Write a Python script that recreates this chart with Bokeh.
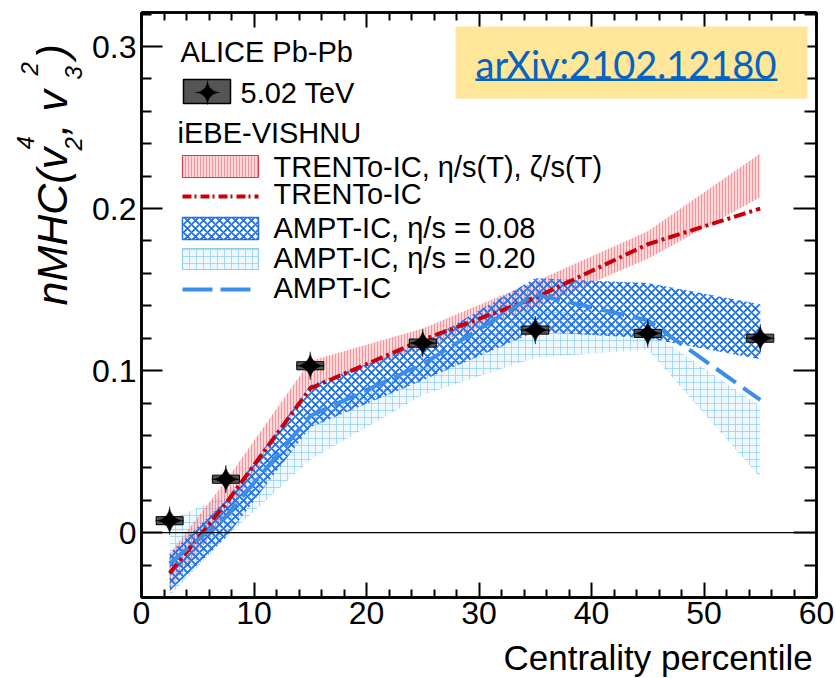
import numpy as np
from bokeh.plotting import figure
from bokeh.layouts import row, column
from bokeh.models import Range1d, LinearAxis, Span, Label, BoxAnnotation, FixedTicker, CustomJSTickFormatter
from bokeh.embed import file_html
from bokeh.resources import INLINE

# ---------------- data ----------------
cent = [2.5, 7.5, 15, 25, 35, 45, 55]
alice = [0.0074, 0.033, 0.103, 0.117, 0.125, 0.123, 0.120]
alice_sys = [0.0025, 0.0025, 0.0025, 0.0025, 0.0025, 0.0025, 0.0025]

trento_lo = [-0.034, 0.010, 0.090, 0.114, 0.139, 0.169, 0.207]
trento_hi = [-0.013, 0.032, 0.106, 0.126, 0.155, 0.186, 0.234]
trento_line = [-0.025, 0.018, 0.089, 0.119, 0.145, 0.178, 0.200]

ampt008_lo = [-0.036, -0.003, 0.065, 0.094, 0.124, 0.120, 0.107]
ampt008_hi = [-0.013, 0.020, 0.091, 0.117, 0.157, 0.154, 0.141]

ampt020_lo = [-0.039, -0.003, 0.045, 0.085, 0.108, 0.113, 0.034]
ampt020_hi = [0.008, 0.023, 0.072, 0.104, 0.140, 0.125, 0.078]

ampt_line = [-0.019, 0.010, 0.072, 0.104, 0.147, 0.131, 0.082]

x_ticks = [0, 10, 20, 30, 40, 50, 60]
y_ticks = [0, 0.1, 0.2, 0.3]

# ---------------- geometry (page pixels) ----------------
W, H = 836, 678
YW = 87            # width of the y-title strip
MH = 637           # height of the main figure
FL, FR, FT, FB = 141, 816, 12, 597
X0, X1 = 0.0, 60.0
Y0, Y1 = -0.04, 0.321


def dx(px):
    return X0 + (px - FL) * (X1 - X0) / (FR - FL)


def dy(py):
    return Y1 - (py - FT) * (Y1 - Y0) / (FB - FT)


XPX = (X1 - X0) / (FR - FL)
YPX = (Y1 - Y0) / (FB - FT)

FONT = "Liberation Sans"

p = figure(width=W - YW, height=MH, x_range=Range1d(X0, X1), y_range=Range1d(Y0, Y1),
           output_backend="svg", toolbar_location=None,
           min_border_left=FL - YW, min_border_right=W - FR, min_border_top=FT, min_border_bottom=MH - FB)
p.grid.visible = False
p.background_fill_color = "white"
p.border_fill_color = "white"
p.outline_line_color = "black"
p.outline_line_width = 2.5

xminor = [2 * i for i in range(31) if i % 5 != 0]
yminor = [round(-0.04 + 0.02 * i, 2) for i in range(19)]
yminor = [v for v in yminor if v not in (0.0, 0.1, 0.2, 0.3)]


def style_axis(ax, ticker, major_in, minor_in, labels=True):
    ax.ticker = ticker
    ax.major_tick_in = major_in
    ax.major_tick_out = 0
    ax.minor_tick_in = minor_in
    ax.minor_tick_out = 0
    ax.major_tick_line_width = 2
    ax.minor_tick_line_width = 2
    ax.axis_line_width = 2.5
    ax.axis_line_color = "black"
    ax.major_tick_line_color = "black"
    ax.minor_tick_line_color = "black"
    ax.major_label_text_font = FONT
    ax.major_label_text_font_size = "32px"
    ax.major_label_text_color = "black"
    if not labels:
        ax.formatter = CustomJSTickFormatter(code="return ''")
        ax.major_label_standoff = 0


style_axis(p.xaxis[0], FixedTicker(ticks=x_ticks, minor_ticks=xminor), 15, 8)
p.xaxis[0].major_label_standoff = 4
style_axis(p.yaxis[0], FixedTicker(ticks=y_ticks, minor_ticks=yminor), 21, 10)
p.yaxis[0].major_label_standoff = 5
p.yaxis[0].major_label_overrides = {0: "0"}

top_ax = LinearAxis()
style_axis(top_ax, FixedTicker(ticks=x_ticks, minor_ticks=xminor), 15, 8, labels=False)
p.add_layout(top_ax, "above")
right_ax = LinearAxis()
style_axis(right_ax, FixedTicker(ticks=y_ticks, minor_ticks=yminor), 23, 12, labels=False)
p.add_layout(right_ax, "right")

# ---------------- model bands ----------------
RED = "#e23a42"
BLUE = "#1f6fe5"
LBLUE = "#8fcdf0"

band020 = dict(fill_color="#e3f3fc", fill_alpha=0.6, hatch_pattern="cross", hatch_color=LBLUE,
               hatch_weight=0.8, hatch_scale=7, hatch_alpha=0.9)
bandtr = dict(fill_color="#f7b0b3", fill_alpha=0.5, hatch_pattern="vertical_line", hatch_color=RED,
              hatch_weight=0.7, hatch_scale=3, hatch_alpha=0.6)
band008 = dict(fill_alpha=0.0, hatch_pattern="diagonal_cross", hatch_color=BLUE,
               hatch_weight=1.8, hatch_scale=8, hatch_alpha=1.0)

p.varea(x=cent, y1=ampt020_lo, y2=ampt020_hi, **band020)
p.varea(x=cent, y1=trento_lo, y2=trento_hi, **bandtr)
p.varea(x=cent, y1=ampt008_lo, y2=ampt008_hi, **band008)

p.add_layout(Span(location=0, dimension="width", line_color="black", line_width=1.3))

p.line(cent, trento_line, line_color="#c8000c", line_width=4, line_dash="12 4 3 4")
p.line(cent, ampt_line, line_color="#3a8ee8", line_width=4, line_dash="24 9")

# ---------------- ALICE data ----------------
p.rect(x=cent, y=alice, width=2.4, height=[2 * s for s in alice_sys],
       fill_color="#555555", line_color="black", line_width=1)


def star(x0, y0, rx, ry, n=64, pw=3.5):
    t = np.linspace(0, 2 * np.pi, n, endpoint=False)
    c, s = np.cos(t), np.sin(t)
    return list(x0 + rx * np.sign(c) * np.abs(c) ** pw), list(y0 + ry * np.sign(s) * np.abs(s) ** pw)


sx, sy = [], []
for xv, yv in zip(cent, alice):
    a, b = star(xv, yv, 14 * XPX, 14 * YPX)
    sx.append(a)
    sy.append(b)
p.patches(sx, sy, fill_color="black", line_color="black", line_width=0.5)

# ---------------- legend ----------------
def lbl(text, px, py, size="29px"):
    p.add_layout(Label(x=dx(px), y=dy(py), text=text, text_font=FONT, text_font_size=size,
                       text_color="black", text_baseline="middle"))


lbl("ALICE Pb-Pb", 180, 51)
p.quad(left=dx(183), right=dx(230), top=dy(79), bottom=dy(103),
       fill_color="#555555", line_color="black", line_width=1.5)
a, b = star(dx(207), dy(92), 12 * XPX, 12 * YPX)
p.patch(a, b, fill_color="black", line_color="black", line_width=0.5)
lbl("5.02 TeV", 240, 92)
lbl("iEBE-VISHNU", 177, 132)

p.quad(left=dx(182), right=dx(258), top=dy(155), bottom=dy(177), line_color=RED, line_width=1.2, **bandtr)
lbl("TRENTo-IC, η/s(T), ζ/s(T)", 273, 166)
p.line([dx(182), dx(258)], [dy(196), dy(196)], line_color="#c8000c", line_width=4, line_dash="9 3 2 4")
lbl("TRENTo-IC", 273, 193)
p.quad(left=dx(182), right=dx(258), top=dy(217), bottom=dy(239), line_color=BLUE, line_width=1.5, **band008)
lbl("AMPT-IC, η/s = 0.08", 273, 227)
p.quad(left=dx(182), right=dx(258), top=dy(248), bottom=dy(269), line_color=LBLUE, line_width=1.2, **band020)
lbl("AMPT-IC, η/s = 0.20", 273, 257)
p.line([dx(182), dx(258)], [dy(289), dy(289)], line_color="#3a8ee8", line_width=4, line_dash="30 8")
lbl("AMPT-IC", 273, 287)

# ---------------- arXiv box ----------------
p.add_layout(BoxAnnotation(left=dx(455), right=dx(807), top=dy(26), bottom=dy(98),
                           fill_color="#FFE699", fill_alpha=1.0, line_color=None, level="annotation"))
p.add_layout(Label(x=dx(475), y=dy(63), text="arXiv:2102.12180", text_font="Lato",
                   text_font_size="38px", text_color="#0563C1", text_baseline="middle"))
p.add_layout(BoxAnnotation(left=dx(475), right=dx(777), top=dy(78), bottom=dy(80.5),
                           fill_color="#0563C1", fill_alpha=1.0, line_color=None))


# ---------------- axis titles (separate strips, page-pixel coordinates) ----------------
def strip(w, h, xr, yr, bl=0, br=0, bt=0, bb=0):
    f = figure(width=w, height=h, x_range=Range1d(*xr), y_range=Range1d(*yr),
               output_backend="svg", toolbar_location=None,
               min_border_left=bl, min_border_right=br, min_border_top=bt, min_border_bottom=bb,
               x_axis_location=None, y_axis_location=None)
    f.outline_line_color = None
    f.grid.visible = False
    f.background_fill_color = "white"
    f.border_fill_color = "white"
    return f


# y strip: frame spans page x 0..YW and page y FT..H
yfig = strip(YW, H, (0, YW), (H, FT), bt=FT)


def ylab(text, cx, y_start, size):
    yfig.add_layout(Label(x=cx, y=y_start, text=text, angle=np.pi / 2, text_font=FONT,
                          text_font_style="italic", text_font_size=size, text_align="left",
                          text_color="black", text_baseline="middle"))


ylab("nMHC(v", 51, 305, "43px")
ylab("2", 72.5, 150, "24px")
ylab("4", 25, 149, "24px")
ylab(", v", 51, 135, "43px")
ylab("3", 72.5, 79, "24px")
ylab("2", 29, 75, "24px")
ylab(")", 51, 58, "43px")

# x strip: its frame is aligned with the main frame (page x FL..FR), page y MH..H
xfig = strip(W - YW, H - MH, (FL, FR), (H, MH), bl=FL - YW, br=W - FR)
xfig.add_layout(Label(x=503, y=657, text="Centrality percentile", text_font=FONT,
                      text_font_size="35px", text_align="left", text_color="black",
                      text_baseline="middle"))

layout = row(yfig, column(p, xfig, spacing=0), spacing=0)
open("out.html", "w").write(file_html(layout, INLINE))
